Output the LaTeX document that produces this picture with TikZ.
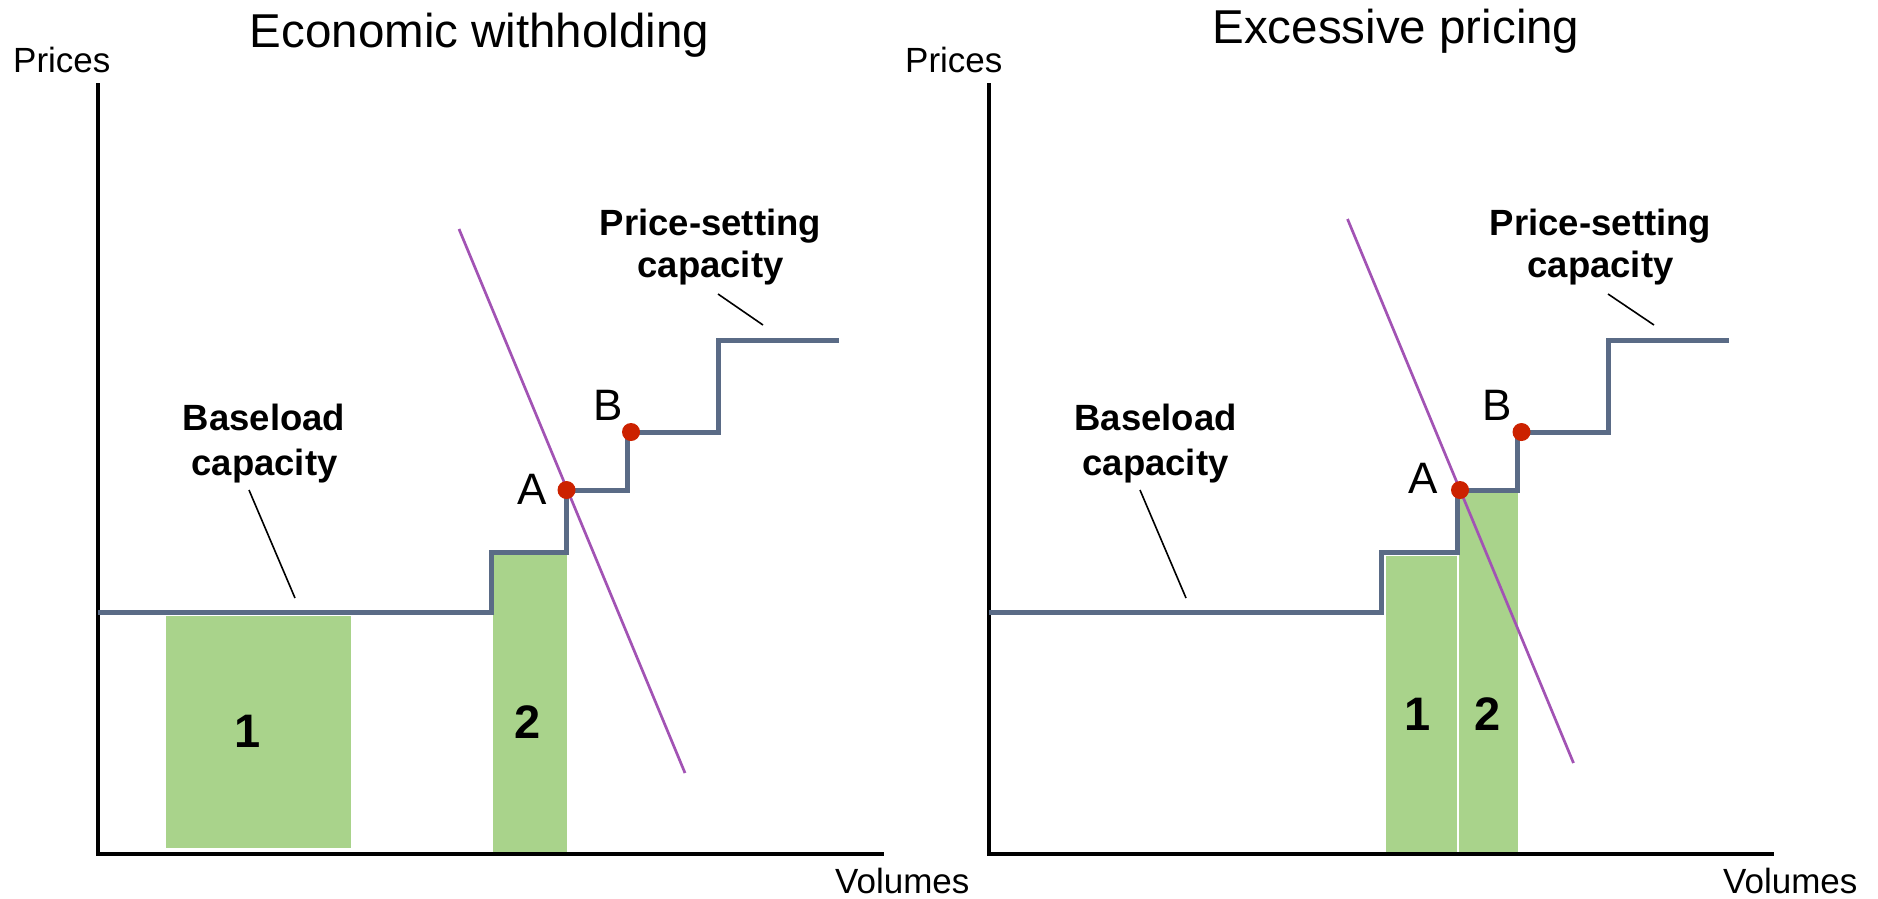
\documentclass[tikz,border=0pt]{standalone}
\usepackage{fontspec}
\setmainfont{Liberation Sans}
\definecolor{stepcol}{HTML}{5A6B86}
\definecolor{areagreen}{HTML}{A9D38B}
\definecolor{dotred}{HTML}{CC2200}
\definecolor{demand}{HTML}{A253B4}
\tikzset{
  axisline/.style={line width=3.6pt, black, line join=miter},
  supply/.style={line width=5pt, stepcol, line join=miter},
  demandline/.style={line width=2.7pt, demand},
  leader/.style={line width=1.6pt, black},
  area/.style={fill=areagreen, draw=none},
  dot/.style={circle, fill=dotred, minimum size=18pt, inner sep=0pt},
  txt/.style={inner sep=0pt, anchor=base},
  title/.style={txt, font=\fontsize{47.5}{57}\selectfont},
  axlabel/.style={txt, anchor=base west, font=\fontsize{35}{42}\selectfont},
  callout/.style={txt, font=\fontsize{36.5}{44}\selectfont\bfseries},
  point/.style={txt, font=\fontsize{44}{52}\selectfont},
  areanum/.style={txt, font=\fontsize{47}{56}\selectfont\bfseries}
}
\begin{document}
\begin{tikzpicture}[x=1pt, y=-1pt]
\useasboundingbox (0,0) rectangle (1878,898);

% ---------------- Economic withholding ----------------
\node[title] (t1) at (479.5,47) {Economic withholding};
\node[axlabel] (py1) at (13,72) {Prices};
\node[axlabel] (vx1) at (835,893) {Volumes};

% withheld volumes
\fill[area] (166,615.5) rectangle (351,848);
\fill[area] (493,553) rectangle (567,852);
\node[areanum] (n11) at (248,747) {1};
\node[areanum] (n12) at (527.5,738) {2};

% axes
\coordinate (o1) at (98,854);
\coordinate (ytop1) at (98,83);
\coordinate (xend1) at (884,854);
\draw[axisline] (ytop1) -- (o1) -- (xend1);

% supply curve
\draw[supply] (98,612.5) -- (491.5,612.5) -- (491.5,552) -- (566.5,552)
  -- (566.5,490) -- (627,490) -- (627,432) -- (718,432) -- (718,340) -- (839,340);

% demand curve
\coordinate (d1a) at (459,229);
\coordinate (d1b) at (685,773);
\draw[demandline] (d1a) -- (d1b);

% equilibrium points
\node[dot] (A1) at (566.5,490) {};
\node[dot] (B1) at (631,432) {};
\node[point] (la1) at (532,504) {A};
\node[point] (lb1) at (608.5,420) {B};

% callouts
\node[callout] (ps1) at (710.5,235) {Price-setting};
\node[callout] (pc1) at (710.5,277) {capacity};
\coordinate (pl1a) at (718,294);
\coordinate (pl1b) at (763,325);
\draw[leader] (pl1a) -- (pl1b);
\node[callout] (bs1) at (264,430) {Baseload};
\node[callout] (bc1) at (264.5,475) {capacity};
\coordinate (bl1a) at (249,490);
\coordinate (bl1b) at (295,598);
\draw[leader] (bl1a) -- (bl1b);

% ---------------- Excessive pricing ----------------
\node[title] (t2) at (1396,43) {Excessive pricing};
\node[axlabel] (py2) at (905,72) {Prices};
\node[axlabel] (vx2) at (1723,893) {Volumes};

% withheld volumes
\fill[area] (1386,555.5) rectangle (1457.3,852);
\fill[area] (1459.3,493) rectangle (1517.7,852);
\node[areanum] (n21) at (1417.5,730) {1};
\node[areanum] (n22) at (1488,730) {2};

% axes
\coordinate (o2) at (989,854);
\coordinate (ytop2) at (989,83);
\coordinate (xend2) at (1774,854);
\draw[axisline] (ytop2) -- (o2) -- (xend2);

% supply curve
\draw[supply] (989,612.5) -- (1381.5,612.5) -- (1381.5,552) -- (1457.5,552)
  -- (1457.5,490) -- (1517.5,490) -- (1517.5,432) -- (1608,432) -- (1608,340) -- (1729,340);

% demand curve
\coordinate (d2a) at (1347.5,219);
\coordinate (d2b) at (1573.5,763);
\draw[demandline] (d2a) -- (d2b);

% equilibrium points
\node[dot] (A2) at (1460,490) {};
\node[dot] (B2) at (1521.5,432) {};
\node[point] (la2) at (1423,493) {A};
\node[point] (lb2) at (1497,420) {B};

% callouts
\node[callout] (ps2) at (1600.5,235) {Price-setting};
\node[callout] (pc2) at (1600.5,277) {capacity};
\coordinate (pl2a) at (1608,294);
\coordinate (pl2b) at (1654,325);
\draw[leader] (pl2a) -- (pl2b);
\node[callout] (bs2) at (1155.5,430) {Baseload};
\node[callout] (bc2) at (1155.5,475) {capacity};
\coordinate (bl2a) at (1140,490);
\coordinate (bl2b) at (1186,598);
\draw[leader] (bl2a) -- (bl2b);
\end{tikzpicture}
\end{document}
